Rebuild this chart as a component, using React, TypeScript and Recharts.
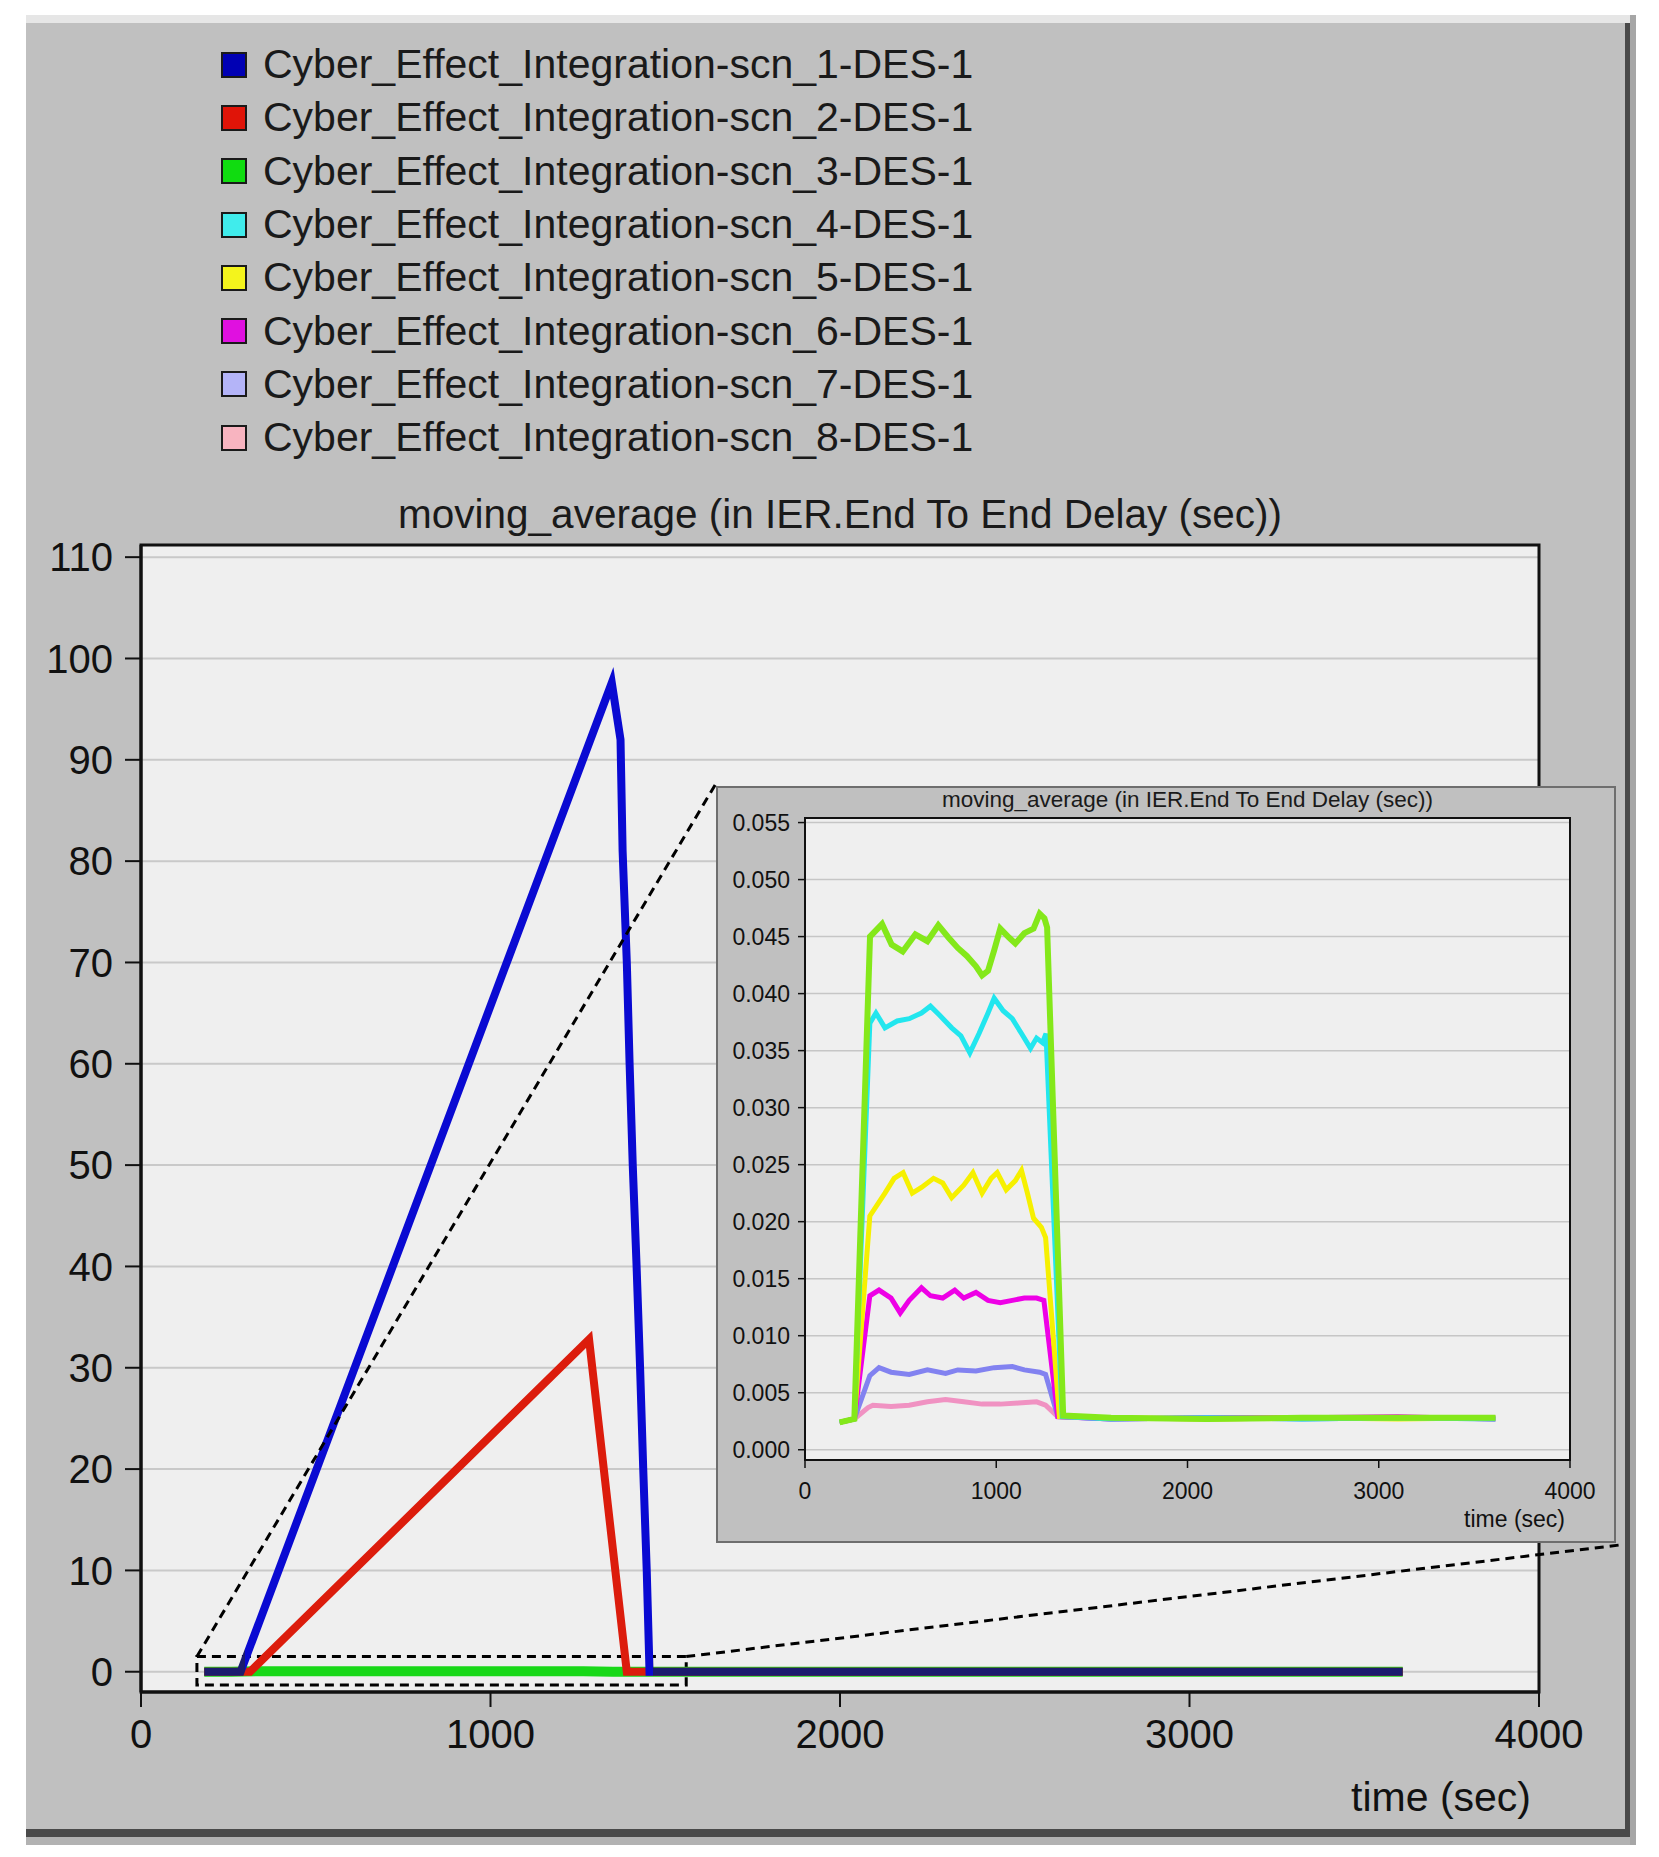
import React from 'react';
import { LineChart, Line, XAxis, YAxis, CartesianGrid, ReferenceArea, ReferenceLine } from 'recharts';

const FONT = '"Liberation Sans", Arial, Helvetica, sans-serif';

const seriesNames = [
  'Cyber_Effect_Integration-scn_1-DES-1',
  'Cyber_Effect_Integration-scn_2-DES-1',
  'Cyber_Effect_Integration-scn_3-DES-1',
  'Cyber_Effect_Integration-scn_4-DES-1',
  'Cyber_Effect_Integration-scn_5-DES-1',
  'Cyber_Effect_Integration-scn_6-DES-1',
  'Cyber_Effect_Integration-scn_7-DES-1',
  'Cyber_Effect_Integration-scn_8-DES-1',
];
const legendColors = ['#0000b4', '#e01408', '#10dc10', '#40ecec', '#f4f41c', '#e010e0', '#b4b4f8', '#f8b4c0'];
const mainColors = ['#0a0ad2', '#dc1c0c', '#18d818', '#30e0e0', '#f0f010', '#e010e0', '#9090f0', '#f0a0c0'];
const insetColors = ['#0a0ad2', '#dc1c0c', '#84e81a', '#22e6ee', '#f6f000', '#ee00e6', '#8282f0', '#f092c2'];

// scn_1 and scn_2 (seconds, delay)
const scn1Time = [181, 285, 1347, 1372, 1378, 1390, 1398, 1407, 1418, 1428, 1437, 1447, 1455, 3610];
const scn1Value = [0, 0, 97.6, 92, 81, 70, 60, 50, 40, 30, 20, 10, 0, 0];
const scn2Time = [181, 312, 1282, 1390, 3610];
const scn2Value = [0, 0, 32.8, 0, 0];

// scn_3 .. scn_8, read from the zoomed view
const scn3Time = [181, 258, 340, 403, 453, 511, 577, 640, 697, 751, 799, 846, 894, 926, 957, 989, 1021, 1068, 1100, 1147, 1195, 1227, 1252, 1266, 1350, 1600, 2100, 2600, 3100, 3610];
const scn3Value = [0.0024, 0.0027, 0.045, 0.0461, 0.0443, 0.0437, 0.0452, 0.0446, 0.046, 0.0449, 0.044, 0.0433, 0.0424, 0.0416, 0.042, 0.0438, 0.0457, 0.0449, 0.0444, 0.0453, 0.0457, 0.047, 0.0466, 0.0458, 0.003, 0.0028, 0.0027, 0.0028, 0.0028, 0.0028];
const scn4Time = [181, 258, 339, 371, 418, 482, 545, 609, 656, 704, 767, 815, 862, 910, 957, 989, 1036, 1084, 1132, 1179, 1211, 1242, 1260, 1345, 1600, 2100, 2600, 3100, 3610];
const scn4Value = [0.0024, 0.0027, 0.0374, 0.0383, 0.037, 0.0376, 0.0378, 0.0383, 0.0389, 0.0381, 0.037, 0.0363, 0.0348, 0.0365, 0.0383, 0.0396, 0.0385, 0.0378, 0.0365, 0.0352, 0.0361, 0.0357, 0.0365, 0.0029, 0.0027, 0.0028, 0.0027, 0.0028, 0.0027];
const scn5Time = [181, 258, 339, 418, 466, 513, 561, 609, 672, 720, 767, 830, 878, 926, 973, 1005, 1052, 1100, 1132, 1163, 1195, 1236, 1258, 1330, 1600, 2100, 2600, 3100, 3610];
const scn5Value = [0.0024, 0.0027, 0.0205, 0.0225, 0.0238, 0.0243, 0.0225, 0.023, 0.0238, 0.0234, 0.0221, 0.0232, 0.0243, 0.0225, 0.0238, 0.0243, 0.0228, 0.0236, 0.0245, 0.0225, 0.0203, 0.0195, 0.0186, 0.0029, 0.0028, 0.0027, 0.0028, 0.0027, 0.0028];
const scn6Time = [181, 258, 339, 387, 450, 498, 545, 609, 656, 720, 783, 830, 894, 957, 1021, 1084, 1147, 1211, 1249, 1322, 1600, 2100, 2600, 3100, 3610];
const scn6Value = [0.0024, 0.0027, 0.0135, 0.014, 0.0133, 0.012, 0.0131, 0.0142, 0.0135, 0.0133, 0.014, 0.0133, 0.0138, 0.0131, 0.0129, 0.0131, 0.0133, 0.0133, 0.0131, 0.0029, 0.0027, 0.0028, 0.0028, 0.0029, 0.0027];
const scn7Time = [181, 258, 339, 387, 450, 545, 640, 735, 799, 894, 989, 1084, 1147, 1227, 1258, 1322, 1600, 2100, 2600, 3100, 3610];
const scn7Value = [0.0024, 0.0027, 0.0065, 0.0072, 0.0068, 0.0066, 0.007, 0.0067, 0.007, 0.0069, 0.0072, 0.0073, 0.007, 0.0068, 0.0066, 0.0029, 0.0027, 0.0028, 0.0027, 0.0028, 0.0028];
const scn8Time = [181, 258, 330, 355, 450, 545, 640, 735, 830, 926, 1021, 1116, 1211, 1258, 1322, 1600, 2100, 2600, 3100, 3610];
const scn8Value = [0.0024, 0.0027, 0.0037, 0.0039, 0.0038, 0.0039, 0.0042, 0.0044, 0.0042, 0.004, 0.004, 0.0041, 0.0042, 0.0039, 0.0029, 0.0028, 0.0027, 0.0028, 0.0028, 0.0027];

const mainXTicks = [0, 1000, 2000, 3000, 4000];
const mainYTicks = [0, 10, 20, 30, 40, 50, 60, 70, 80, 90, 100, 110];
const insetYTicks = [0, 0.005, 0.01, 0.015, 0.02, 0.025, 0.03, 0.035, 0.04, 0.045, 0.05, 0.055];

// zoom window shown in the inset
const zoomX = [160, 1560];
const zoomY = [-1.3, 1.5];

const rows = (time: number[], value: number[]) => time.map((t, i) => ({ t, v: value[i] }));

const allSeries = [
  rows(scn1Time, scn1Value),
  rows(scn2Time, scn2Value),
  rows(scn3Time, scn3Value),
  rows(scn4Time, scn4Value),
  rows(scn5Time, scn5Value),
  rows(scn6Time, scn6Value),
  rows(scn7Time, scn7Value),
  rows(scn8Time, scn8Value),
];

// scn_1 looks navy where it sits on the baseline
const t0 = scn1Time[0];
const span = scn1Time[scn1Time.length - 1] - t0;
const riseIdx = scn1Value.findIndex((v) => v > 0) - 1;
const fallIdx = scn1Value.length - 1 - [...scn1Value].reverse().findIndex((v) => v > 0) + 1;
const riseOff = (scn1Time[riseIdx] - t0) / span + 0.004;
const fallOff = (scn1Time[fallIdx] - t0) / span + 0.003;

function MainChart() {
  const order = [7, 6, 5, 4, 3, 2, 1, 0];
  return (
    <LineChart width={1604} height={1827} margin={{ top: 527, right: 91, bottom: 0, left: 0 }}>
      <CartesianGrid vertical={false} stroke="#c9c9c9" strokeWidth={2} fill="#efefef" />
      <XAxis
        dataKey="t"
        type="number"
        domain={[0, 4000]}
        ticks={mainXTicks}
        interval={0}
        height={153}
        tickSize={15}
        tickMargin={13}
        axisLine={{ stroke: '#111', strokeWidth: 3 }}
        tickLine={{ stroke: '#111', strokeWidth: 2 }}
        tick={{ fill: '#111', fontSize: 40, fontFamily: FONT }}
        label={(p: any) => (
          <text x={p.viewBox.x + p.viewBox.width - 8} y={p.viewBox.y + 119} textAnchor="end" fontSize={41} fontFamily={FONT} fill="#111">
            time (sec)
          </text>
        )}
      />
      <YAxis
        type="number"
        domain={[-2, 111.2]}
        ticks={mainYTicks}
        interval={0}
        width={115}
        tickSize={16}
        tickMargin={12}
        axisLine={{ stroke: '#111', strokeWidth: 3 }}
        tickLine={{ stroke: '#111', strokeWidth: 2 }}
        tick={{ fill: '#111', fontSize: 40, fontFamily: FONT }}
      />
      {order.map((i) => (
        <Line
          key={seriesNames[i]}
          data={allSeries[i]}
          dataKey="v"
          name={seriesNames[i]}
          stroke={i === 0 ? 'url(#scn1Stroke)' : mainColors[i]}
          strokeWidth={i === 2 ? 10 : 8}
          dot={false}
          activeDot={false}
          isAnimationActive={false}
        />
      ))}
      <ReferenceArea x1={0} x2={4000} y1={-2} y2={111.2} fill="none" stroke="#111" strokeWidth={3} ifOverflow="visible" />
      <ReferenceArea
        x1={zoomX[0]}
        x2={zoomX[1]}
        y1={zoomY[0]}
        y2={zoomY[1]}
        fill="none"
        stroke="#000"
        strokeWidth={3}
        strokeDasharray="9 6"
        ifOverflow="visible"
      />
      <ReferenceLine
        segment={[{ x: zoomX[0], y: zoomY[1] }, { x: 1644, y: 87.6 }]}
        stroke="#000"
        strokeWidth={3}
        strokeDasharray="9 6"
        ifOverflow="visible"
      />
      <ReferenceLine
        segment={[{ x: zoomX[1], y: zoomY[1] }, { x: 4229, y: 12.5 }]}
        stroke="#000"
        strokeWidth={3}
        strokeDasharray="9 6"
        ifOverflow="visible"
      />
    </LineChart>
  );
}

function InsetChart() {
  const order = [7, 6, 5, 4, 3, 2];
  return (
    <LineChart width={900} height={757} margin={{ top: 32, right: 46, bottom: 0, left: 0 }}>
      <CartesianGrid vertical={false} stroke="#c6c6c6" strokeWidth={1.5} fill="#efefef" />
      <XAxis
        dataKey="t"
        type="number"
        domain={[0, 4000]}
        ticks={mainXTicks}
        interval={0}
        height={83}
        tickSize={8}
        tickMargin={15}
        axisLine={{ stroke: '#111', strokeWidth: 2 }}
        tickLine={{ stroke: '#111', strokeWidth: 1.5 }}
        tick={{ fill: '#111', fontSize: 23, fontFamily: FONT }}
        label={(p: any) => (
          <text x={p.viewBox.x + p.viewBox.width - 5} y={p.viewBox.y + 67} textAnchor="end" fontSize={23} fontFamily={FONT} fill="#111">
            time (sec)
          </text>
        )}
      />
      <YAxis
        type="number"
        domain={[-0.0009, 0.0554]}
        ticks={insetYTicks}
        interval={0}
        width={89}
        tickSize={7}
        tickMargin={8}
        tickFormatter={(v: number) => v.toFixed(3)}
        axisLine={{ stroke: '#111', strokeWidth: 2 }}
        tickLine={{ stroke: '#111', strokeWidth: 1.5 }}
        tick={{ fill: '#111', fontSize: 23, fontFamily: FONT }}
      />
      {order.map((i) => (
        <Line
          key={seriesNames[i]}
          data={allSeries[i]}
          dataKey="v"
          name={seriesNames[i]}
          stroke={insetColors[i]}
          strokeWidth={i === 2 ? 6 : 5}
          dot={false}
          activeDot={false}
          isAnimationActive={false}
        />
      ))}
      <ReferenceArea x1={0} x2={4000} y1={-0.0009} y2={0.0554} fill="none" stroke="#111" strokeWidth={2} ifOverflow="visible" />
    </LineChart>
  );
}

export default function App() {
  return (
    <div style={{ position: 'absolute', left: 0, top: 0, width: 1659, height: 1857, background: '#fff', overflow: 'hidden', fontFamily: FONT }}>
      <svg width={0} height={0} style={{ position: 'absolute' }}>
        <defs>
          <linearGradient id="scn1Stroke" x1="0" y1="0" x2="1" y2="0">
            <stop offset={0} stopColor="#1b1b6e" />
            <stop offset={riseOff} stopColor="#1b1b6e" />
            <stop offset={riseOff} stopColor={mainColors[0]} />
            <stop offset={fallOff} stopColor={mainColors[0]} />
            <stop offset={fallOff} stopColor="#1b1b6e" />
            <stop offset={1} stopColor="#1b1b6e" />
          </linearGradient>
        </defs>
      </svg>

      {/* window frame */}
      <div style={{ position: 'absolute', left: 26, top: 15, width: 1604, height: 8, background: '#e6e6e6' }} />
      <div
        style={{
          position: 'absolute',
          left: 26,
          top: 23,
          width: 1604,
          height: 1814,
          background: '#c0c0c0',
          borderRight: '5px solid #4a4a4a',
          borderBottom: '8px solid #4a4a4a',
          boxSizing: 'border-box',
        }}
      />
      <div style={{ position: 'absolute', left: 26, top: 1837, width: 1610, height: 8, background: '#b2b2b2' }} />
      <div style={{ position: 'absolute', left: 1630, top: 15, width: 6, height: 1830, background: '#a6a6a6' }} />

      {/* legend */}
      <div style={{ position: 'absolute', left: 221, top: 38 }}>
        {seriesNames.map((name, i) => (
          <div key={name} style={{ display: 'flex', alignItems: 'center', height: 53.3 }}>
            <div
              style={{
                width: 22,
                height: 22,
                background: legendColors[i],
                border: '2px solid #1a1a1a',
                marginRight: 16,
              }}
            />
            <span style={{ fontSize: 41, lineHeight: '53px', color: '#1a1a1a', whiteSpace: 'nowrap' }}>{name}</span>
          </div>
        ))}
      </div>

      <div style={{ position: 'absolute', left: 340, width: 1000, top: 494, textAlign: 'center', fontSize: 40.5, lineHeight: '40px', color: '#1a1a1a' }}>
        moving_average (in IER.End To End Delay (sec))
      </div>

      <div style={{ position: 'absolute', left: 26, top: 18 }}>
        <MainChart />
      </div>

      {/* zoomed inset */}
      <div
        style={{
          position: 'absolute',
          left: 716,
          top: 786,
          width: 900,
          height: 757,
          background: '#c0c0c0',
          boxShadow: 'inset 0 0 0 2px #6e6e6e',
        }}
      >
        <div style={{ position: 'absolute', left: 0, top: 0 }}>
          <InsetChart />
        </div>
        <div style={{ position: 'absolute', left: 89, width: 765, top: 2, textAlign: 'center', fontSize: 22.5, lineHeight: '24px', color: '#1a1a1a' }}>
          moving_average (in IER.End To End Delay (sec))
        </div>
      </div>
    </div>
  );
}
